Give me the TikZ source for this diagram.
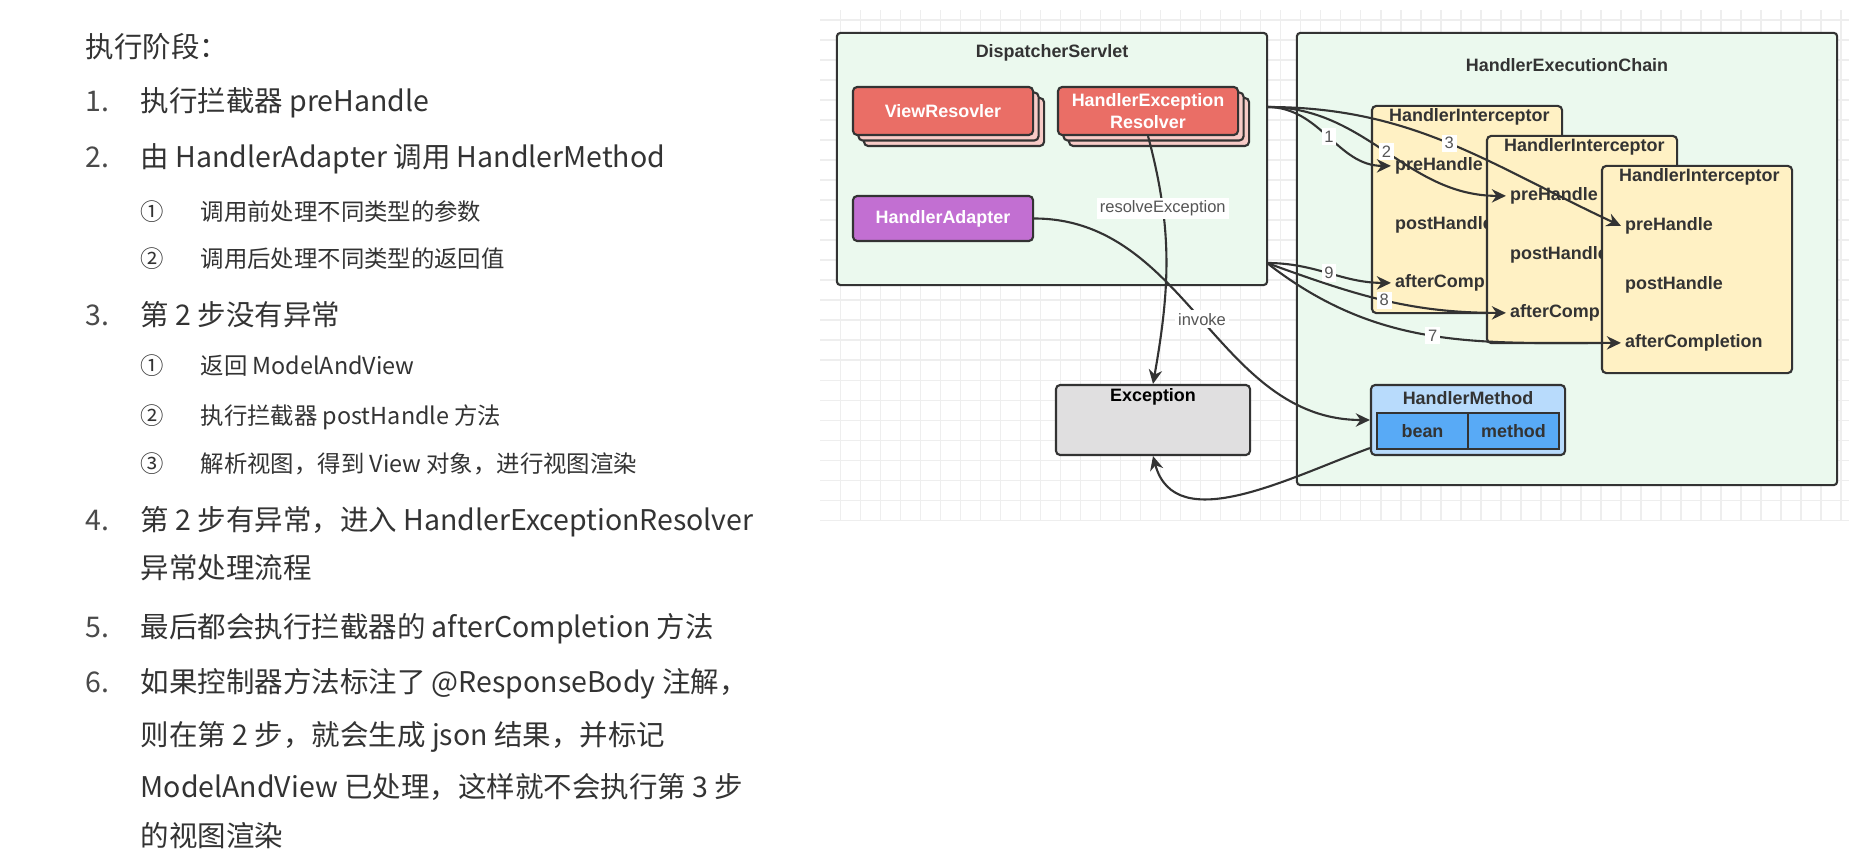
\documentclass[tikz,border=0pt]{standalone}
\usepackage{fontspec}
\setmainfont{Noto Sans CJK SC}
\newfontfamily\diafont{Liberation Sans}
\usetikzlibrary{positioning,arrows.meta}
\definecolor{ink}{HTML}{333333}
\definecolor{numink}{HTML}{4A4A4A}
\definecolor{gridline}{HTML}{EEEEEE}
\definecolor{panelgreen}{HTML}{EBF9EE}
\definecolor{salmon}{HTML}{EA6E66}
\definecolor{salmonlt}{HTML}{F7CBC7}
\definecolor{adapterpurple}{HTML}{C26FD2}
\definecolor{icptyellow}{HTML}{FFF1C4}
\definecolor{excgray}{HTML}{E0DFE0}
\definecolor{hmlight}{HTML}{B8DBFC}
\definecolor{hmdeep}{HTML}{58AAF6}
\definecolor{lblink}{HTML}{555555}

\begin{document}
\begin{tikzpicture}[x=0.01cm, y=-0.01cm,
    item/.style={anchor=base west, inner sep=0pt, text=ink, font=\fontsize{8.1pt}{10pt}\selectfont},
    subitem/.style={item, font=\fontsize{6.65pt}{8pt}\selectfont},
    num/.style={item, text=numink},
    panel/.style={draw=ink, line width=0.6pt, fill=panelgreen, rounded corners=1pt},
    ttl/.style={inner sep=1pt, text=ink, font=\diafont\bfseries\fontsize{5.1pt}{6.3pt}\selectfont},
    redbox/.style={draw=ink, line width=0.6pt, fill=salmon, rounded corners=1.2pt, minimum width=1.80cm, minimum height=0.48cm, inner sep=1pt, align=center, text=white, font=\diafont\bfseries\fontsize{5.1pt}{6.3pt}\selectfont},
    stackbox/.style={redbox, fill=salmonlt},
    plainbox/.style={draw=ink, line width=0.6pt, rounded corners=1.2pt, minimum width=1.94cm, minimum height=0.70cm},
    cell/.style={draw=ink, line width=0.5pt, fill=hmdeep, minimum width=0.91cm, minimum height=0.36cm, inner sep=0pt, text=ink, font=\diafont\bfseries\fontsize{5.1pt}{6.3pt}\selectfont},
    icpt/.style={draw=ink, line width=0.6pt, fill=icptyellow, rounded corners=1.2pt, minimum width=1.90cm, minimum height=2.07cm},
    icptxt/.style={ttl, anchor=west},
    flow/.style={draw=ink, line width=0.6pt, -{Stealth[length=4pt,width=3.8pt]}},
    lbl/.style={fill=white, inner sep=0.8pt, text=lblink, font=\diafont\fontsize{4.7pt}{5.6pt}\selectfont}]
    \path[use as bounding box, fill=white] (0,0) rectangle (1849,864);
    \draw[gridline, line width=0.4pt, step=0.2cm] (8.2cm,-0.1cm) grid (18.49cm,-5.2cm);

    \node[item] (head) at (85,58) {执行阶段：};
    \node[num] (n1) at (85,112) {1.};
    \node[item] (t1) at (140,112) {执行拦截器 preHandle};
    \node[num] (n2) at (85,168) {2.};
    \node[item] (t2) at (140,168) {由 HandlerAdapter 调用 HandlerMethod};
    \node[subitem] (c21) at (140,221) {①};
    \node[subitem] (t21) at (200,221) {调用前处理不同类型的参数};
    \node[subitem] (c22) at (140,268) {②};
    \node[subitem] (t22) at (200,268) {调用后处理不同类型的返回值};
    \node[num] (n3) at (85,326) {3.};
    \node[item] (t3) at (140,326) {第 2 步没有异常};
    \node[subitem] (c31) at (140,374) {①};
    \node[subitem] (t31) at (200,374) {返回 ModelAndView};
    \node[subitem] (c32) at (140,424) {②};
    \node[subitem] (t32) at (200,424) {执行拦截器 postHandle 方法};
    \node[subitem] (c33) at (140,472) {③};
    \node[subitem] (t33) at (200,472) {解析视图，得到 View 对象，进行视图渲染};
    \node[num] (n4) at (85,530) {4.};
    \node[item] (t4) at (140,530) {第 2 步有异常，进入 HandlerExceptionResolver};
    \node[item] (t4b) at (140,578) {异常处理流程};
    \node[num] (n5) at (85,637) {5.};
    \node[item] (t5) at (140,637) {最后都会执行拦截器的 afterCompletion 方法};
    \node[num] (n6) at (85,692) {6.};
    \node[item] (t6) at (140,692) {如果控制器方法标注了 @ResponseBody 注解，};
    \node[item] (t6b) at (140,745) {则在第 2 步，就会生成 json 结果，并标记};
    \node[item] (t6c) at (140,797) {ModelAndView 已处理，这样就不会执行第 3 步};
    \node[item] (t6d) at (140,846) {的视图渲染};

    \node[panel, minimum width=4.30cm, minimum height=2.52cm] (ds) at (1052,159) {};
    \node[ttl] (dsT) at (1052,53) {DispatcherServlet};
    \node[panel, minimum width=5.40cm, minimum height=4.52cm] (hec) at (1567,259) {};
    \node[ttl] (hecT) at (1567,65) {HandlerExecutionChain};

    \node[stackbox] (vrB) at (954,122) {};
    \node[stackbox] (vrM) at (948.5,116.5) {};
    \node[redbox] (vr) at (943,111) {ViewResovler};
    \node[stackbox] (herB) at (1159,122) {};
    \node[stackbox] (herM) at (1153.5,116.5) {};
    \node[redbox] (her) at (1148,111) {HandlerException\\Resolver};
    \node[redbox, fill=adapterpurple, minimum height=0.45cm] (ha) at (943,218.5) {HandlerAdapter};

    \node[plainbox, fill=excgray] (exc) at (1153,420) {};
    \node[ttl, text=black] (excT) at (1153,397) {Exception};
    \node[plainbox, fill=hmlight] (hm) at (1468,420) {};
    \node[ttl] (hmT) at (1468,398) {HandlerMethod};
    \node[cell] (bean) at (1422.5,431) {bean};
    \node[cell] (meth) at (1513.5,431) {method};

    \node[icpt] (ic1) at (1467,209.5) {};
    \node[icptxt] (ic1T) at ([shift={(14,12)}]ic1.north west) {HandlerInterceptor};
    \node[icptxt] (pre1) at ([shift={(20,61)}]ic1.north west) {preHandle};
    \node[icptxt] (post1) at ([shift={(20,120)}]ic1.north west) {postHandle};
    \node[icptxt] (aft1) at ([shift={(20,178)}]ic1.north west) {afterCompletion};
    \node[icpt] (ic2) at ([shift={(115,30)}]ic1) {};
    \node[icptxt] (ic2T) at ([shift={(14,12)}]ic2.north west) {HandlerInterceptor};
    \node[icptxt] (pre2) at ([shift={(20,61)}]ic2.north west) {preHandle};
    \node[icptxt] (post2) at ([shift={(20,120)}]ic2.north west) {postHandle};
    \node[icptxt] (aft2) at ([shift={(20,178)}]ic2.north west) {afterCompletion};
    \node[icpt] (ic3) at ([shift={(115,30)}]ic2) {};
    \node[icptxt] (ic3T) at ([shift={(14,12)}]ic3.north west) {HandlerInterceptor};
    \node[icptxt] (pre3) at ([shift={(20,61)}]ic3.north west) {preHandle};
    \node[icptxt] (post3) at ([shift={(20,120)}]ic3.north west) {postHandle};
    \node[icptxt] (aft3) at ([shift={(20,178)}]ic3.north west) {afterCompletion};

    \coordinate (dsUp) at (1267,107);
    \coordinate (dsLow) at (1267,263);
    \draw[flow] (dsUp) to[out=0,in=180] node[lbl] {1} (pre1.west);
    \draw[flow] (dsUp) to[out=0,in=180] node[lbl] {2} (pre2.west);
    \draw[flow] (dsUp) to[out=0,in=155] node[lbl] {3} (pre3.west);
    \draw[flow] (dsLow) to[out=0,in=180] node[lbl] {9} (aft1.west);
    \draw[flow] (dsLow) to[out=-20,in=180] node[lbl] {8} (aft2.west);
    \draw[flow] (dsLow) to[out=-38,in=180] node[lbl] {7} (aft3.west);
    \draw[flow] (her.south) to[out=-75,in=80] node[lbl, pos=0.28] {resolveException} (exc.north);
    \draw[flow] (ha.east) to[out=0,in=180] node[lbl] {invoke} (hm.west);
    \draw[flow] ([yshift=0.08cm]hm.south west) to[out=200,in=-75] (exc.south);
\end{tikzpicture}
\end{document}
